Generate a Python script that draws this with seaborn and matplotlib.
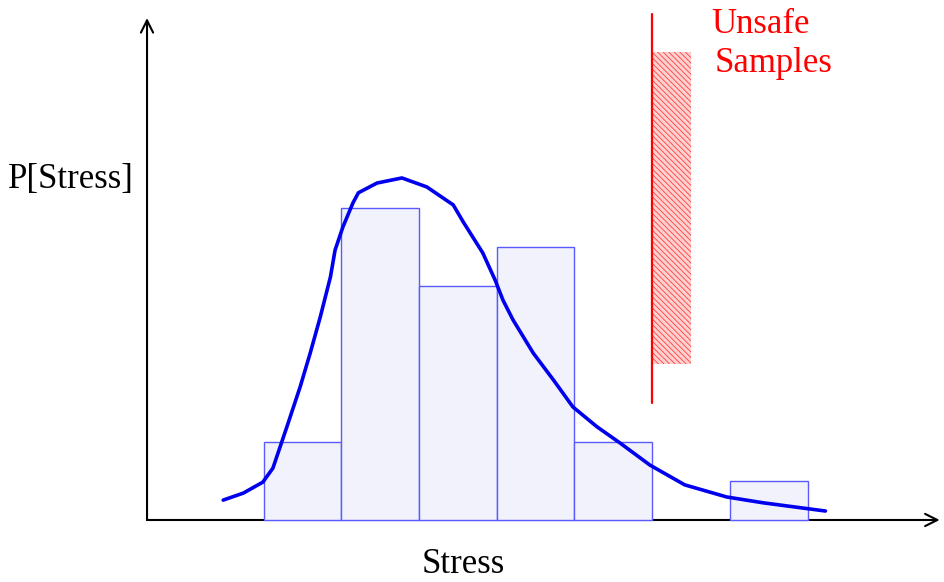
import numpy as np
import pandas as pd
import matplotlib
matplotlib.use("Agg")
import matplotlib.pyplot as plt
import seaborn as sns
from matplotlib.patches import Rectangle

# ---- data ----
bin_edges = [1.5, 2.5, 3.5, 4.5, 5.5, 6.5, 7.5, 8.5]
bin_counts = [2, 8, 6, 7, 2, 0, 1]

curve_x = [0.98, 1.24, 1.49, 1.62, 1.80, 1.97, 2.10, 2.23, 2.36, 2.42, 2.52, 2.65,
           2.72, 2.96, 3.28, 3.60, 3.94, 4.07, 4.32, 4.48, 4.58, 4.71, 4.97, 5.23,
           5.48, 5.79, 6.09, 6.47, 6.92, 7.46, 7.93, 8.73]
curve_y = [0.51, 0.69, 0.97, 1.33, 2.39, 3.41, 4.28, 5.21, 6.23, 6.92, 7.51, 8.13,
           8.39, 8.64, 8.77, 8.54, 8.08, 7.64, 6.85, 6.15, 5.64, 5.13, 4.28, 3.59,
           2.90, 2.39, 1.97, 1.41, 0.90, 0.59, 0.44, 0.23]

threshold_x = 6.5
threshold_span = [3.0, 12.97]
unsafe_x = [6.5, 7.0]
unsafe_y = [4.0, 12.0]

axis_x_end = 10.2
axis_y_end = 12.87

# ---- figure ----
sns.set_theme(style="white")
plt.rcParams['font.family'] = ['Liberation Serif', 'DejaVu Serif']

fig = plt.figure(figsize=(9.44, 5.82), dpi=100)
ax = fig.add_axes([0, 0, 1, 1])

centers = [(a + b) / 2 for a, b in zip(bin_edges[:-1], bin_edges[1:])]
hist_df = pd.DataFrame({"stress": centers, "count": bin_counts})
sns.histplot(data=hist_df, x="stress", weights="count", bins=bin_edges, ax=ax,
             stat="count", element="bars", fill=True, color="#f1f2fc",
             edgecolor="#5a5aff", linewidth=1.0, alpha=1, zorder=2)
for p in ax.patches:
    if p.get_height() == 0:
        p.set_visible(False)

curve_df = pd.DataFrame({"x": curve_x, "y": curve_y})
sns.lineplot(data=curve_df, x="x", y="y", sort=False, estimator=None, ax=ax,
             color="#0000ee", linewidth=2.6, zorder=4)
for ln in ax.lines:
    ln.set_solid_joinstyle("round")
    ln.set_solid_capstyle("round")

# unsafe hatched region
plt.rcParams['hatch.linewidth'] = 0.6
ax.add_patch(Rectangle((unsafe_x[0], unsafe_y[0]), unsafe_x[1] - unsafe_x[0],
                       unsafe_y[1] - unsafe_y[0], facecolor="#ffd0d0",
                       edgecolor="#ff4040", hatch="\\\\\\\\\\\\", linewidth=0, zorder=3))
ax.plot([threshold_x, threshold_x], threshold_span, color="red", linewidth=1.6, zorder=5)

# axes arrows
ax.annotate("", xy=(axis_x_end, 0), xytext=(0, 0),
            arrowprops=dict(arrowstyle="->", color="black", lw=1.5,
                            mutation_scale=22, shrinkA=0, shrinkB=0), zorder=1)
ax.annotate("", xy=(0, axis_y_end), xytext=(0, 0),
            arrowprops=dict(arrowstyle="->", color="black", lw=1.5,
                            mutation_scale=22, shrinkA=0, shrinkB=0), zorder=1)

ax.text(7.258, 12.487, "Unsafe", color="red", fontsize=25, ha="left", va="baseline")
ax.text(7.309, 11.487, "Samples", color="red", fontsize=25, ha="left", va="baseline")
ax.text(-1.789, 8.513, "P[Stress]", color="black", fontsize=25, ha="left", va="baseline")
ax.text(3.539, -1.359, "Stress", color="black", fontsize=25, ha="left", va="baseline")

ax.set_xlim(-1.892, 10.256)
ax.set_ylim(-1.590, 13.333)
ax.axis("off")

fig.savefig("out.png", dpi=100)
